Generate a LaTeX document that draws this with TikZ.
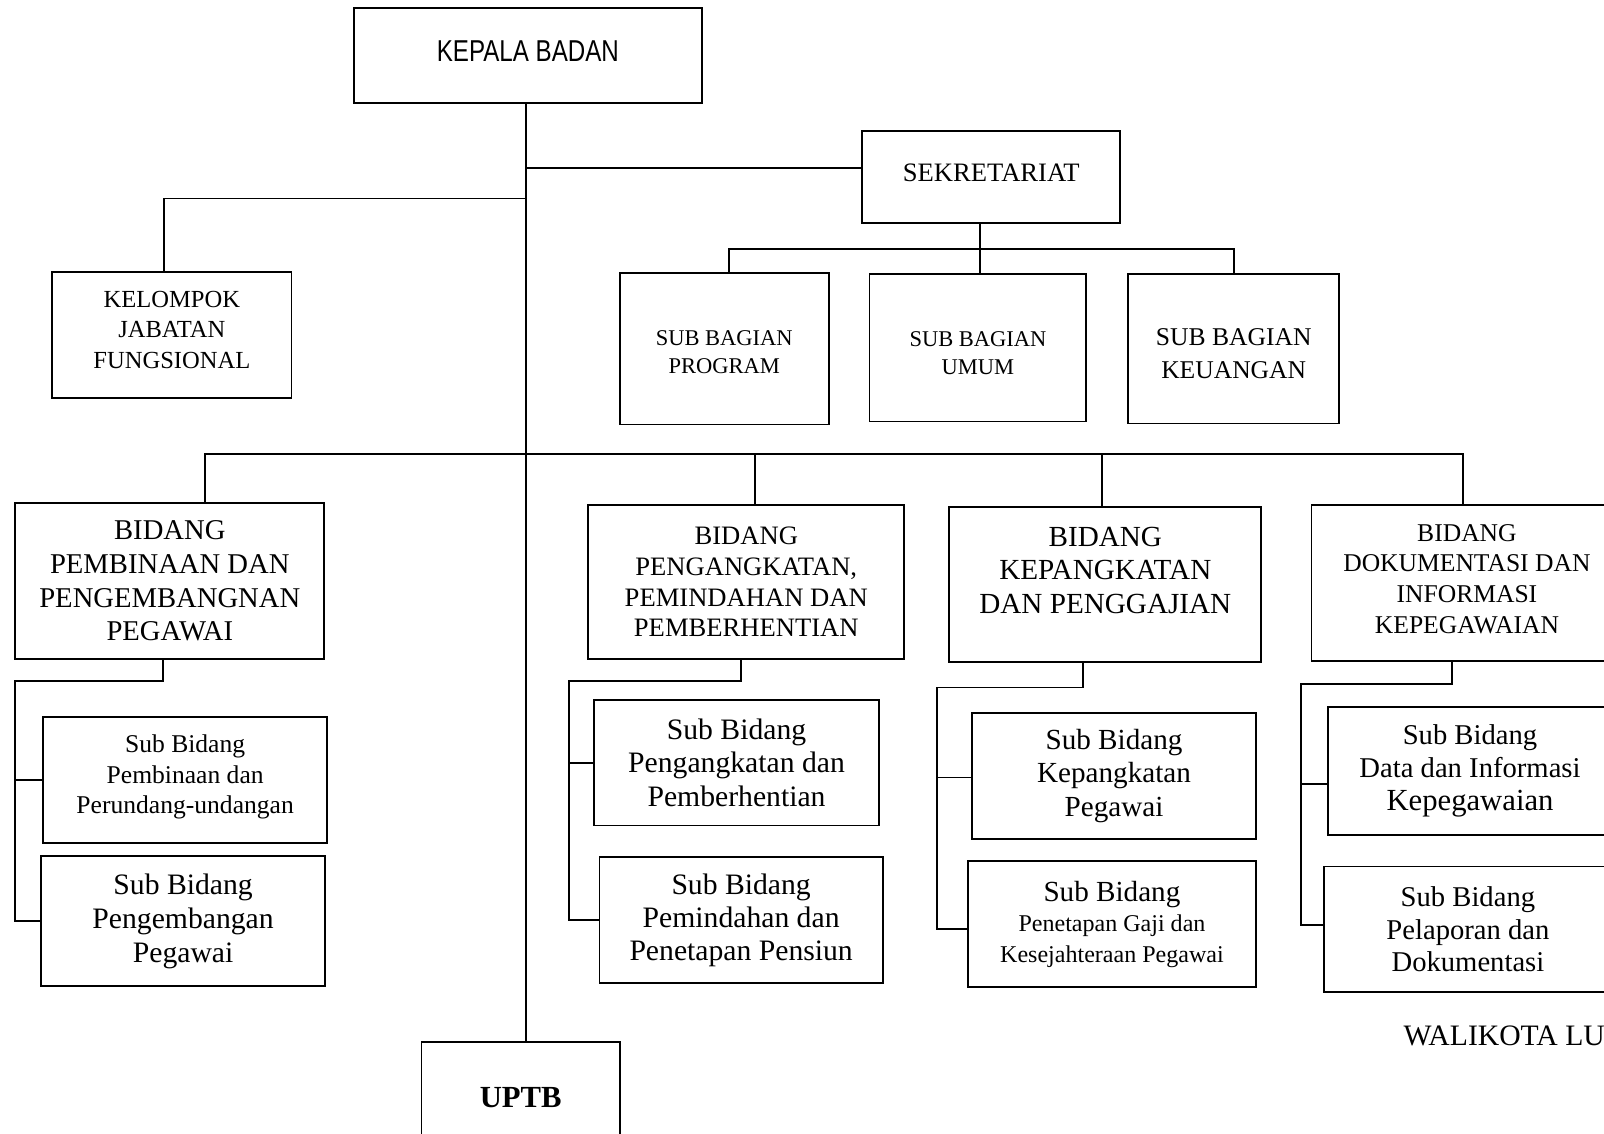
\documentclass[tikz,border=0pt]{standalone}
\usepackage{fontspec}
\setmainfont{Liberation Serif}
\setsansfont{Liberation Sans}
\usepackage{graphicx}
\newcommand\fs[2]{\fontsize{#1}{#2}\selectfont}
\tikzset{
  box/.style={draw, line width=1.8pt, inner sep=0pt, align=center},
  txt/.style={inner sep=0pt, align=center},
  ln/.style={line width=1.8pt}
}
\begin{document}
\begin{tikzpicture}[x=1pt,y=-1pt]
\useasboundingbox (0,0) rectangle (1568,1108);
% boxes
\node[box, minimum width=340pt, minimum height=93pt] (kepala) at (516,54.5) {};
\node[txt, font=\sffamily\fs{29.5}{32}] (kepalat) at ([yshift=5pt]kepala.center) {\scalebox{0.8}[1]{KEPALA BADAN}};
\node[box, minimum width=252pt, minimum height=90pt] (sek) at (969,173) {};
\node[txt, font=\fs{26}{30}] (sekt) at ([yshift=4pt]sek.center) {SEKRETARIAT};
\node[box, minimum width=234pt, minimum height=123pt] (kel) at (168,327.5) {};
\node[txt, font=\fs{24}{29.5}] (kelt) at ([yshift=5pt]kel.center) {KELOMPOK\\JABATAN\\FUNGSIONAL};
\node[box, minimum width=204pt, minimum height=148pt] (prog) at (708,341) {};
\node[txt, font=\fs{22}{27}] (progt) at ([yshift=-3pt]prog.center) {SUB BAGIAN\\PROGRAM};
\node[box, minimum width=212pt, minimum height=144pt] (umum) at (956,340) {};
\node[txt, font=\fs{22}{27}] (umumt) at ([yshift=-5pt]umum.center) {SUB BAGIAN\\UMUM};
\node[box, minimum width=206pt, minimum height=146pt] (keu) at (1206,341) {};
\node[txt, font=\fs{25}{32}] (keut) at ([yshift=-5pt]keu.center) {SUB BAGIAN\\KEUANGAN};
\node[box, minimum width=302pt, minimum height=152pt, font=\fs{28}{33}] (b1) at (166,568) {BIDANG\\PEMBINAAN DAN\\PENGEMBANGNAN\\PEGAWAI};
\node[box, minimum width=309pt, minimum height=150pt, font=\fs{26}{30}] (b2) at (729.5,569) {BIDANG\\PENGANGKATAN,\\PEMINDAHAN DAN\\PEMBERHENTIAN};
\node[box, minimum width=305pt, minimum height=151pt] (b3) at (1080.5,571.5) {};
\node[txt, font=\fs{28.5}{32.5}] (b3t) at ([yshift=14pt]b3.center) {BIDANG\\KEPANGKATAN\\DAN PENGGAJIAN};
\node[box, minimum width=304pt, minimum height=152pt] (b4) at (1434,570) {};
\node[txt, font=\fs{25}{30}] (b4t) at ([yshift=4pt]b4.center) {BIDANG\\DOKUMENTASI DAN\\INFORMASI\\KEPEGAWAIAN};
\node[box, minimum width=278pt, minimum height=123pt] (s1a) at (181,762.5) {};
\node[txt, font=\fs{25}{30}] (s1at) at ([yshift=3pt]s1a.center) {Sub Bidang\\Pembinaan dan\\Perundang-undangan};
\node[box, minimum width=278pt, minimum height=127pt, font=\fs{29}{33.5}] (s1b) at (179,900.5) {Sub Bidang\\Pengembangan\\Pegawai};
\node[box, minimum width=278pt, minimum height=123pt, font=\fs{29}{32.5}] (s2a) at (720,745.5) {Sub Bidang\\Pengangkatan dan\\Pemberhentian};
\node[box, minimum width=277pt, minimum height=123pt, font=\fs{29}{32.5}] (s2b) at (724.5,899.5) {Sub Bidang\\Pemindahan dan\\Penetapan Pensiun};
\node[box, minimum width=278pt, minimum height=123pt, font=\fs{28.5}{33}] (s3a) at (1089,758.5) {Sub Bidang\\Kepangkatan\\Pegawai};
\node[box, minimum width=282pt, minimum height=123pt, font=\fs{28.5}{30}] (s3b) at (1087,903.5) {Sub Bidang\\{\fs{23.5}{29.5}Penetapan Gaji dan}\\{\fs{23.5}{29.5}Kesejahteraan Pegawai}};
\node[box, minimum width=278pt, minimum height=125pt, font=\fs{28}{32}] (s4a) at (1437,753.5) {Sub Bidang\\Data dan Informasi\\{\fs{30}{34}Kepegawaian}};
\node[box, minimum width=282pt, minimum height=123pt, font=\fs{28}{32}] (s4b) at (1435,908.5) {Sub Bidang\\Pelaporan dan\\Dokumentasi};
\node[box, minimum width=194pt, minimum height=108pt, font=\bfseries\fs{30}{34}] (uptb) at (509,1073) {UPTB};
\node[anchor=west, inner sep=0pt, font=\fs{29}{32}] (wali) at (1372,1013) {WALIKOTA LU};
% helper coordinates
\coordinate (t) at (514,0);
\coordinate (kj) at (514,194);
\coordinate (sb) at (958,243);
\coordinate (bb) at (514,444);
\coordinate (v1) at (15,666);
\coordinate (v2) at (556,666);
\coordinate (v3) at (916,672);
\coordinate (v4) at (1272,669);
% connectors
\draw[ln] (kepala.south -| t) -- (uptb.north -| t);
\draw[ln] ([yshift=9pt]sek.west) -- ([yshift=9pt]sek.west -| t);
\draw[ln] ([xshift=-8pt]kel.north) |- (kj);
\draw[ln] (sek.south -| sb) -- (sb);
\draw[ln] ([xshift=5pt]prog.north) |- (sb) -| (keu.north);
\draw[ln] ([xshift=2pt]umum.north) -- ([xshift=2pt]umum.north |- sb);
\draw[ln] ([xshift=34pt]b1.north) |- (bb) -| ([xshift=-4pt]b4.north);
\draw[ln] ([xshift=8.5pt]b2.north) -- ([xshift=8.5pt]b2.north |- bb);
\draw[ln] ([xshift=-3.5pt]b3.north) -- ([xshift=-3.5pt]b3.north |- bb);
% sub trees
\draw[ln] ([xshift=-7pt]b1.south) |- (v1) |- (s1b.west);
\draw[ln] (s1a.west) -- (s1a.west -| v1);
\draw[ln] ([xshift=-5.5pt]b2.south) |- (v2) |- (s2b.west);
\draw[ln] (s2a.west) -- (s2a.west -| v2);
\draw[ln] ([xshift=-21.5pt]b3.south) |- (v3) |- ([yshift=-5pt]s3b.west);
\draw[ln] ([yshift=-1.5pt]s3a.west) -- ([yshift=-1.5pt]s3a.west -| v3);
\draw[ln] ([xshift=-15pt]b4.south) |- (v4) |- ([yshift=4pt]s4b.west);
\draw[ln] ([yshift=-13pt]s4a.west) -- ([yshift=-13pt]s4a.west -| v4);
\end{tikzpicture}
\end{document}
